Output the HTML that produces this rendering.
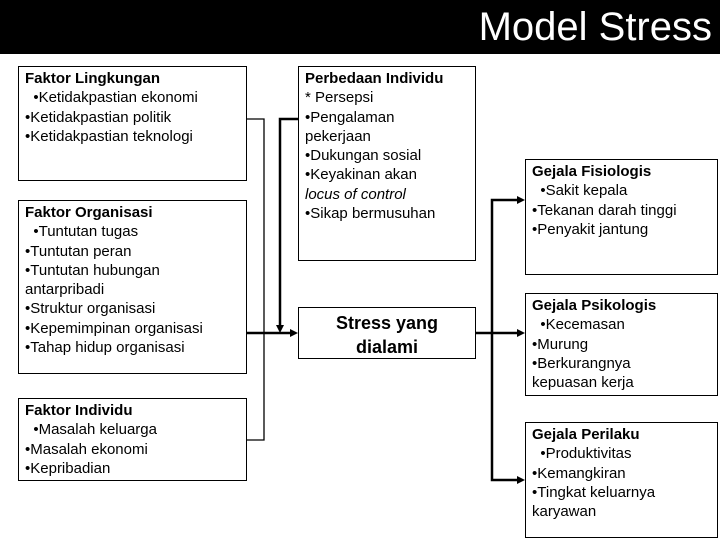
<!DOCTYPE html>
<html><head><meta charset="utf-8"><style>
html,body{margin:0;padding:0;background:#fff;}
body{width:720px;height:540px;position:relative;overflow:hidden;font-family:"Liberation Sans",Arial,sans-serif;}
.hdr{position:absolute;left:0;top:0;width:720px;height:54px;background:#000;}
.hdr span{position:absolute;right:8px;top:4px;color:#fff;font-size:40px;line-height:46px;}
.box{position:absolute;border:1px solid #000;box-sizing:border-box;font-size:15px;line-height:19.3px;padding:2px 0 0 6px;color:#000;white-space:nowrap;}
.box b{font-weight:bold;}
svg{position:absolute;left:0;top:0;}
</style></head><body>
<div class="hdr"><span>Model Stress</span></div>
<div class="box" style="left:18px;top:66px;width:229px;height:115px;"><b>Faktor Lingkungan</b><br>&nbsp;&nbsp;•Ketidakpastian ekonomi<br>•Ketidakpastian politik<br>•Ketidakpastian teknologi</div>
<div class="box" style="left:18px;top:200px;width:229px;height:174px;"><b>Faktor Organisasi</b><br>&nbsp;&nbsp;•Tuntutan tugas<br>•Tuntutan peran<br>•Tuntutan hubungan<br>antarpribadi<br>•Struktur organisasi<br>•Kepemimpinan organisasi<br>•Tahap hidup organisasi</div>
<div class="box" style="left:18px;top:398px;width:229px;height:83px;"><b>Faktor Individu</b><br>&nbsp;&nbsp;•Masalah keluarga<br>•Masalah ekonomi<br>•Kepribadian</div>
<div class="box" style="left:298px;top:66px;width:178px;height:195px;"><b>Perbedaan Individu</b><br>* Persepsi<br>•Pengalaman<br>pekerjaan<br>•Dukungan sosial<br>•Keyakinan akan<br><i>locus of control</i><br>•Sikap bermusuhan</div>
<div class="box" style="left:298px;top:307px;width:178px;height:52px;padding:3px 0 0 0;text-align:center;font-weight:bold;font-size:18px;line-height:24px;">Stress yang<br>dialami</div>
<div class="box" style="left:525px;top:159px;width:193px;height:116px;"><b>Gejala Fisiologis</b><br>&nbsp;&nbsp;•Sakit kepala<br>•Tekanan darah tinggi<br>•Penyakit jantung</div>
<div class="box" style="left:525px;top:293px;width:193px;height:103px;"><b>Gejala Psikologis</b><br>&nbsp;&nbsp;•Kecemasan<br>•Murung<br>•Berkurangnya<br>kepuasan kerja</div>
<div class="box" style="left:525px;top:422px;width:193px;height:116px;"><b>Gejala Perilaku</b><br>&nbsp;&nbsp;•Produktivitas<br>•Kemangkiran<br>•Tingkat keluarnya<br>karyawan</div>
<svg width="720" height="540" viewBox="0 0 720 540">
<g fill="none" stroke="#000">
<polyline points="247,119 264,119 264,440 247,440" stroke-width="1.3"/>
<line x1="247" y1="333" x2="292" y2="333" stroke-width="2.5"/>
<polyline points="298,119 280,119 280,327" stroke-width="2.5"/>
<line x1="476" y1="333" x2="519" y2="333" stroke-width="2.5"/>
<polyline points="519,200 492,200 492,480 519,480" stroke-width="2.5"/>
</g>
<g fill="#000">
<polygon points="298,333 290,329 290,337"/>
<polygon points="280,333 276,325 284,325"/>
<polygon points="525,200 517,196 517,204"/>
<polygon points="525,333 517,329 517,337"/>
<polygon points="525,480 517,476 517,484"/>
</g>
</svg>
</body></html>
